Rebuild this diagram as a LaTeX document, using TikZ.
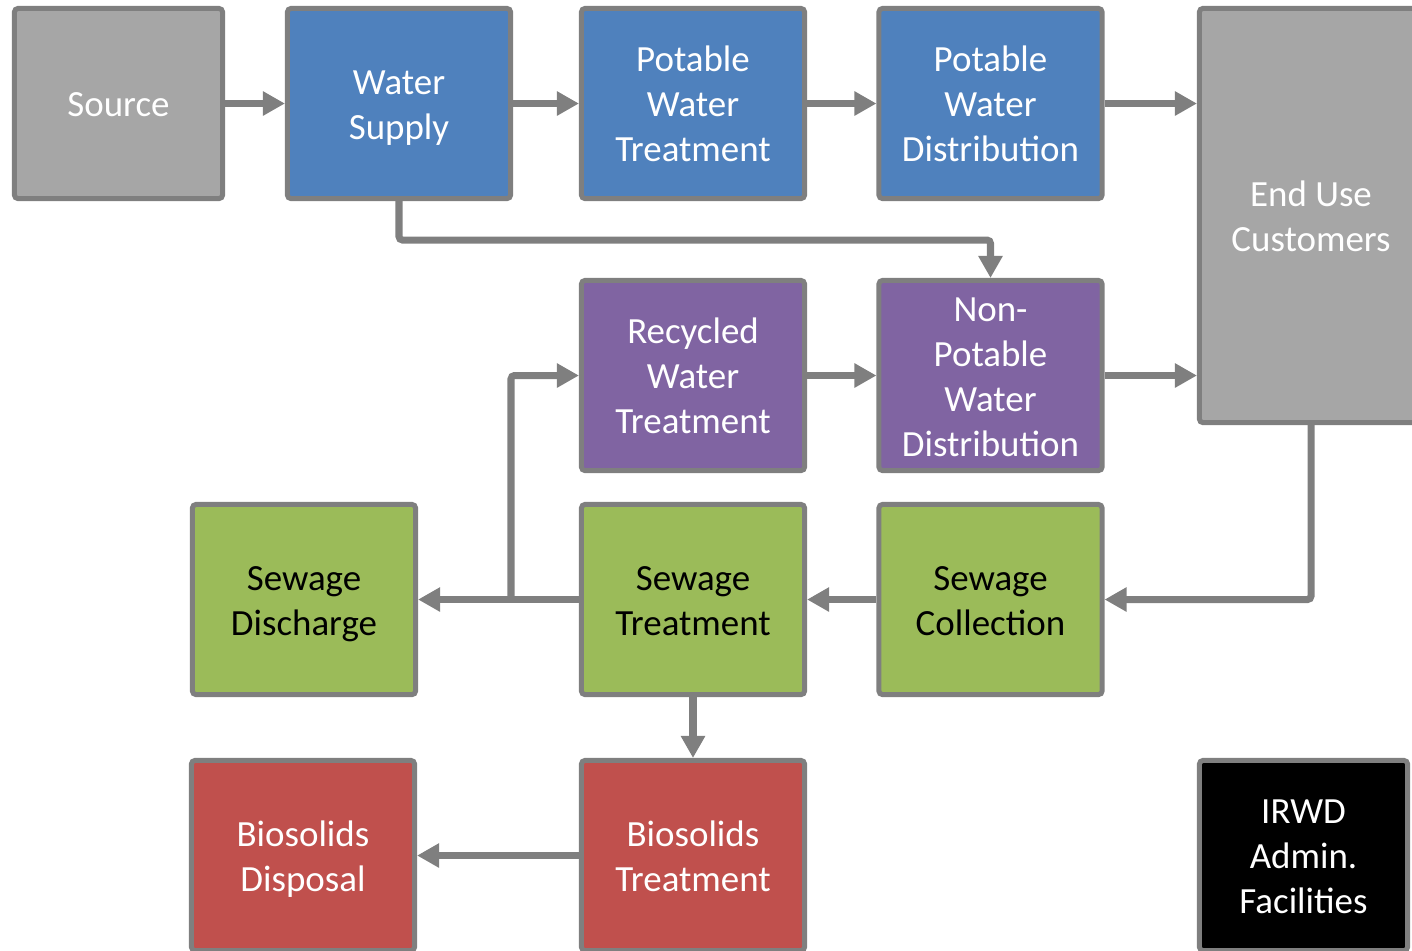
\documentclass[tikz,border=0pt]{standalone}
\usepackage{fontspec}
\setmainfont{Carlito}
\definecolor{IRWDgray}{HTML}{A6A6A6}
\definecolor{IRWDline}{HTML}{7F7F7F}
\definecolor{IRWDblue}{HTML}{4F81BD}
\definecolor{IRWDpurple}{HTML}{8064A2}
\definecolor{IRWDgreen}{HTML}{9BBB59}
\definecolor{IRWDred}{HTML}{C0504D}
\usetikzlibrary{arrows.meta, positioning, calc}
\newcommand{\ls}{\rule[-2.6pt]{0pt}{12.8pt}}

\begin{document}
\begin{tikzpicture}[x=0.01cm, y=-0.01cm,
      stage/.style={draw=IRWDline, line width=1.42pt, rounded corners=1pt,
         minimum width=2.23cm, minimum height=1.9cm, inner sep=0pt,
         align=center, text=white, font=\fontsize{10.5}{12.8}\selectfont,
         execute at end node=\ls},
      flow/.style={draw=IRWDline, line width=2pt, rounded corners=1pt,
         -{Triangle[length=6.3pt, width=6.6pt]}}]
            \useasboundingbox (0,0) rectangle (1412,950);
            \clip (0,0) rectangle (1412,950);
            % Potable side
            \node[stage, fill=IRWDgray, minimum width=2.08cm] (source) at (118.5,103.5) {\ls Source};
            \node[stage, fill=IRWDblue] (supply) at (399,103.5) {\ls Water\\Supply};
            \node[stage, fill=IRWDblue] (pwt) at (693,103.5) {\ls Potable\\Water\\Treatment};
            \node[stage, fill=IRWDblue] (pwd) at (990.5,103.5) {\ls Potable\\Water\\Distribution};
            \node[stage, fill=IRWDgray, minimum height=4.14cm] (enduse) at (1311,215.5) {\ls End Use\\Customers};
            % Recycled side
            \node[stage, fill=IRWDpurple] (rwt) at (693,375.5) {\ls Recycled\\Water\\Treatment};
            \node[stage, fill=IRWDpurple] (npwd) at (990.5,375.5) {\ls Non-\\Potable\\Water\\Distribution};
            % Sewage
            \node[stage, fill=IRWDgreen, text=black] (discharge) at (304,599.5) {\ls Sewage\\Discharge};
            \node[stage, fill=IRWDgreen, text=black] (sewtreat) at (693,599.5) {\ls Sewage\\Treatment};
            \node[stage, fill=IRWDgreen, text=black] (collect) at (990.5,599.5) {\ls Sewage\\Collection};
            % Biosolids
            \node[stage, fill=IRWDred] (disposal) at (303,855.5) {\ls Biosolids\\Disposal};
            \node[stage, fill=IRWDred] (biotreat) at (693,855.5) {\ls Biosolids\\Treatment};
            \node[stage, fill=black, minimum width=2.08cm] (admin) at (1303.5,855.5) {\ls IRWD\\Admin.\\Facilities};
            % Flows
            \draw[flow] (source) -- (supply);
            \draw[flow] (supply) -- (pwt);
            \draw[flow] (pwt) -- (pwd);
            \draw[flow] (pwd.east) -- (pwd.east -| enduse.west);
            \coordinate (bend) at (990.5,240);
            \draw[flow] (supply.south) |- (bend) -- (npwd.north);
            \draw[flow] (rwt) -- (npwd);
            \draw[flow] (npwd.east) -- (npwd.east -| enduse.west);
            \draw[flow] (enduse.south) |- (collect.east);
            \draw[flow] (collect) -- (sewtreat);
            \draw[flow] (sewtreat) -- (discharge);
            \coordinate (tap) at (511,599.5);
            \draw[flow] (tap) |- (rwt.west);
            \draw[flow] (sewtreat) -- (biotreat);
            \draw[flow] (biotreat) -- (disposal);
\end{tikzpicture}
\end{document}
